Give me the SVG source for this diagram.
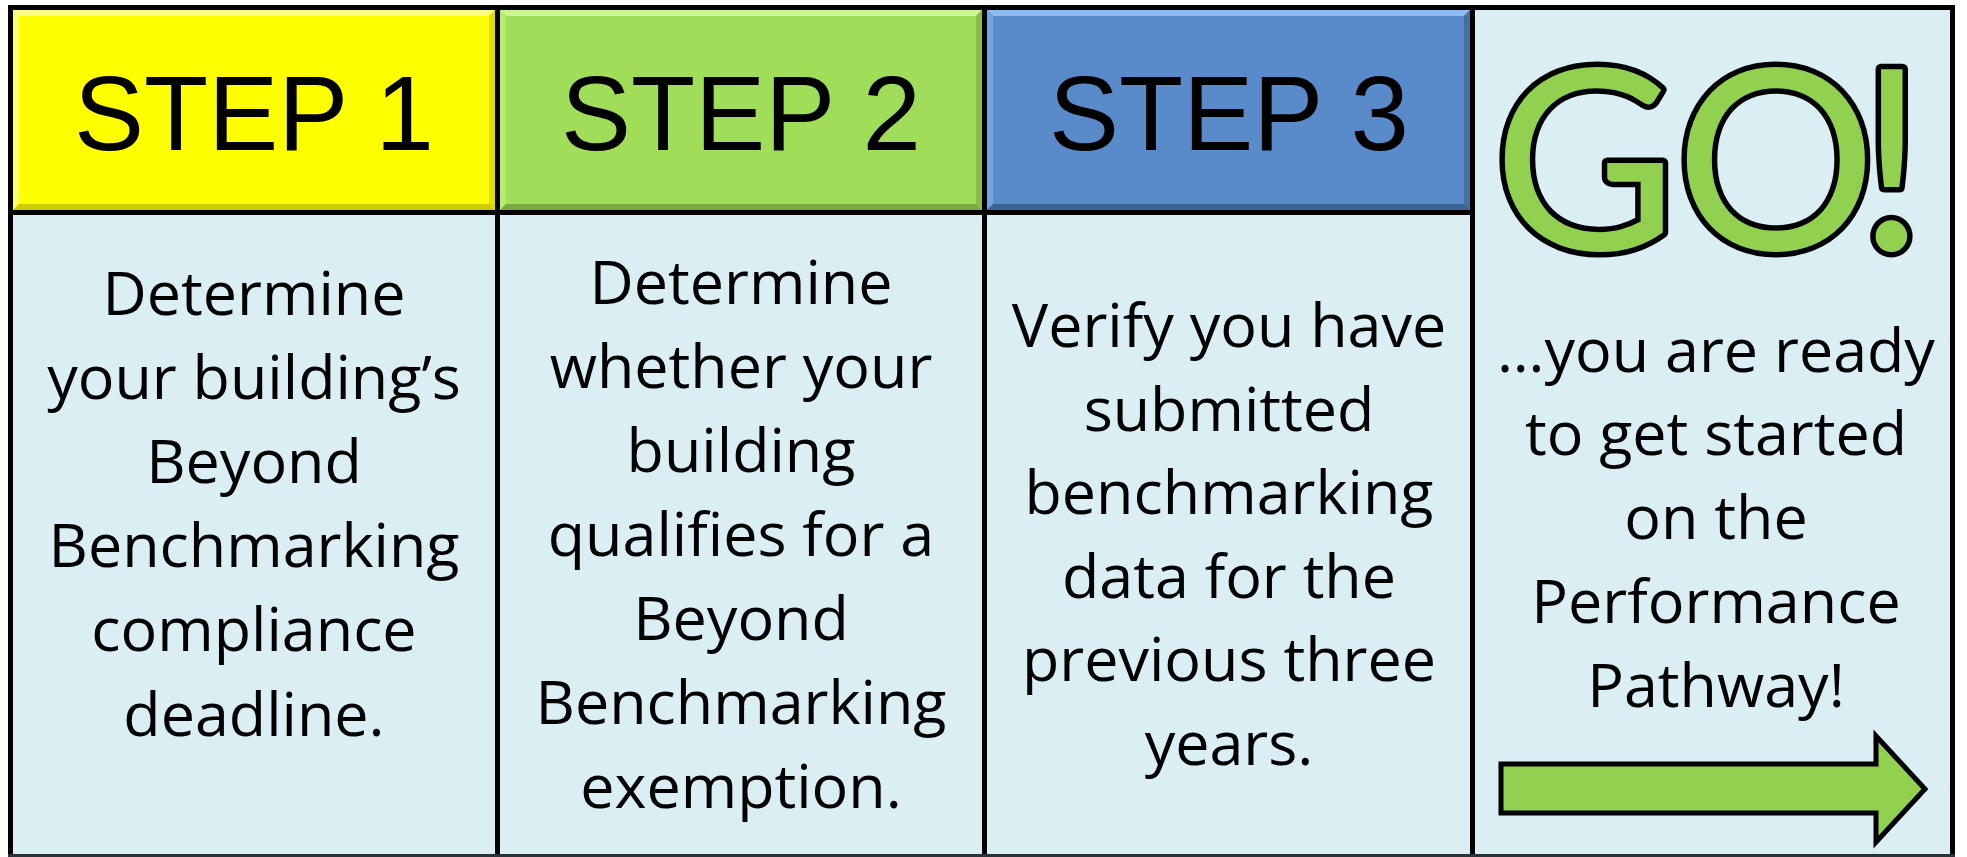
<svg xmlns="http://www.w3.org/2000/svg" width="1967" height="857" viewBox="0 0 1967 857">
  <style>
    .cell { fill: #daeef3; }
    .grid { stroke: #000; stroke-width: 5; fill: none; }
    .hdr { font-family: "Liberation Sans", Arial, sans-serif; font-size: 105px; fill: #000; text-anchor: middle; }
    .body { font-family: "Open Sans", "Noto Sans", sans-serif; font-size: 61px; fill: #000; text-anchor: middle; }
    .go { font-family: Lato, "Open Sans", sans-serif; font-size: 252px; fill: #92d050; stroke: #000; stroke-width: 11; stroke-linejoin: round; paint-order: stroke; }
  </style>
  <rect x="0" y="0" width="1967" height="857" fill="#ffffff"/>

  <g id="step1">
    <rect class="cell" x="13" y="215" width="482" height="640"/>
    <rect x="13" y="10" width="482" height="200" fill="#ffff00"/>
    <polygon points="13,10 495,10 489,16 19,16" fill="#ffff8a"/>
    <polygon points="13,10 19,16 19,204 13,210" fill="#ffff66"/>
    <polygon points="13,210 19,204 489,204 495,210" fill="#cccc00"/>
    <polygon points="495,10 495,210 489,204 489,16" fill="#dddd00"/>
    <text class="hdr" x="254" y="150">STEP 1</text>
    <text class="body" x="254" y="315">Determine</text>
    <text class="body" x="254" y="399">your building’s</text>
    <text class="body" x="254" y="483">Beyond</text>
    <text class="body" x="254" y="567">Benchmarking</text>
    <text class="body" x="254" y="651">compliance</text>
    <text class="body" x="254" y="736">deadline.</text>
  </g>

  <g id="step2">
    <rect class="cell" x="500" y="215" width="482" height="640"/>
    <rect x="500" y="10" width="482" height="200" fill="#a0de5a"/>
    <polygon points="500,10 982,10 976,16 506,16" fill="#ccf590"/>
    <polygon points="500,10 506,16 506,204 500,210" fill="#b5ea75"/>
    <polygon points="500,210 506,204 976,204 982,210" fill="#78aa40"/>
    <polygon points="982,10 982,210 976,204 976,16" fill="#88bb4a"/>
    <text class="hdr" x="741" y="150">STEP 2</text>
    <text class="body" x="741" y="304">Determine</text>
    <text class="body" x="741" y="388">whether your</text>
    <text class="body" x="741" y="472">building</text>
    <text class="body" x="741" y="556">qualifies for a</text>
    <text class="body" x="741" y="640">Beyond</text>
    <text class="body" x="741" y="724">Benchmarking</text>
    <text class="body" x="741" y="808">exemption.</text>
  </g>

  <g id="step3">
    <rect class="cell" x="987" y="215" width="483" height="640"/>
    <rect x="987" y="10" width="483" height="200" fill="#598bcb"/>
    <polygon points="987,10 1470,10 1464,16 993,16" fill="#8ebcf0"/>
    <polygon points="987,10 993,16 993,204 987,210" fill="#74a4e0"/>
    <polygon points="987,210 993,204 1464,204 1470,210" fill="#3c6396"/>
    <polygon points="1470,10 1470,210 1464,204 1464,16" fill="#45709f"/>
    <text class="hdr" x="1229" y="150">STEP 3</text>
    <text class="body" x="1229" y="347">Verify you have</text>
    <text class="body" x="1229" y="431">submitted</text>
    <text class="body" x="1229" y="514">benchmarking</text>
    <text class="body" x="1229" y="598">data for the</text>
    <text class="body" x="1229" y="681">previous three</text>
    <text class="body" x="1229" y="765">years.</text>
  </g>

  <g id="go">
    <rect class="cell" x="1475" y="10" width="476" height="845"/>
    <text class="go" x="1493" y="250" dx="0 -2 -19">GO!</text>
    <text class="body" x="1716" y="372">…you are ready</text>
    <text class="body" x="1716" y="455">to get started</text>
    <text class="body" x="1716" y="539">on the</text>
    <text class="body" x="1716" y="623">Performance</text>
    <text class="body" x="1716" y="707">Pathway!</text>
    <polygon points="1501,764 1876,764 1876,736 1925,789 1876,842 1876,813 1501,813" fill="#92d050" stroke="#000" stroke-width="5" stroke-linejoin="miter"/>
  </g>

  <g id="connectors">
    <line class="grid" x1="8" y1="7.5" x2="1955" y2="7.5"/>
    <line class="grid" x1="8" y1="212.5" x2="1472" y2="212.5"/>
    <line class="grid" x1="10.5" y1="5" x2="10.5" y2="857"/>
    <line class="grid" x1="497.5" y1="5" x2="497.5" y2="857"/>
    <line class="grid" x1="984.5" y1="5" x2="984.5" y2="857"/>
    <line class="grid" x1="1472.5" y1="5" x2="1472.5" y2="857"/>
    <line class="grid" x1="1952.5" y1="5" x2="1952.5" y2="857"/>
    <line x1="8" y1="855.5" x2="1955" y2="855.5" stroke="#2a3438" stroke-width="3"/>
  </g>
</svg>
